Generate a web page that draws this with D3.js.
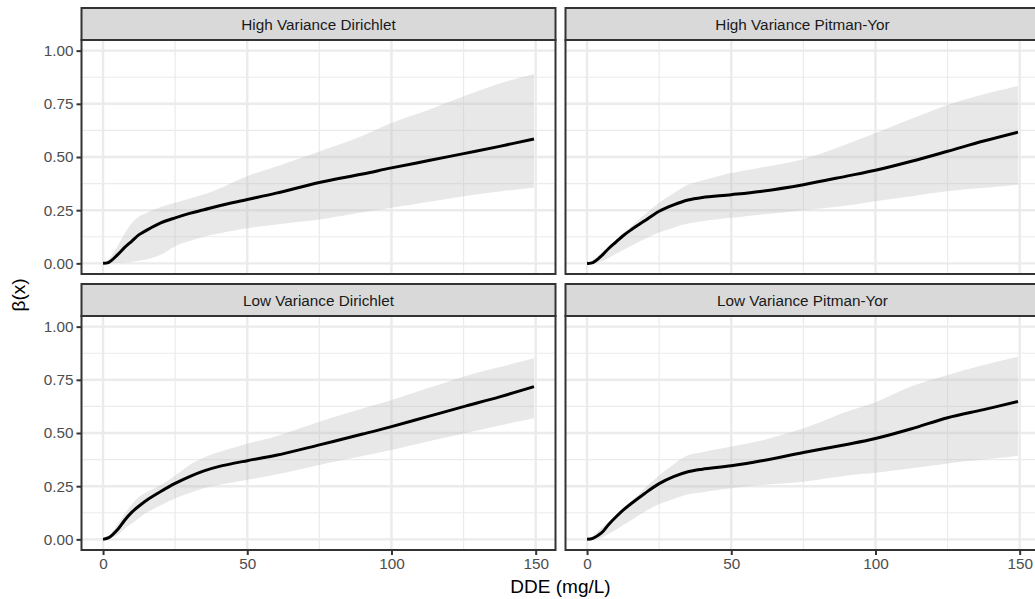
<!DOCTYPE html>
<meta charset="utf-8">
<html>
<script src="https://d3js.org/d3.v7.min.js"></script>
<style>
  body { margin: 0; background: white; }
  text { font-family: "Liberation Sans", Arial, Helvetica, sans-serif; }
</style>
<div id="chart"></div>
<script>

// facet names, in reading order
var facets = ["High Variance Dirichlet", "High Variance Pitman-Yor", "Low Variance Dirichlet", "Low Variance Pitman-Yor"];

// DDE values the curves are read at
var dde = [0, 2, 5, 7.5, 10, 12.5, 15, 20, 25, 30, 35, 40, 50, 60, 75, 90, 100, 112.5, 125, 137.5, 149.4];

// posterior mean of beta(x), one array per facet
var fitHVD = [0, 0.005, 0.04, 0.075, 0.105, 0.135, 0.155, 0.19, 0.214, 0.235, 0.252, 0.27, 0.3, 0.33, 0.38, 0.42, 0.449, 0.482, 0.516, 0.55, 0.585];
var fitHVP = [0, 0.003, 0.035, 0.07, 0.1, 0.13, 0.155, 0.2, 0.245, 0.275, 0.298, 0.31, 0.323, 0.338, 0.37, 0.41, 0.4375, 0.48, 0.527, 0.575, 0.617];
var fitLVD = [0, 0.008, 0.045, 0.09, 0.128, 0.157, 0.183, 0.225, 0.263, 0.295, 0.322, 0.342, 0.37, 0.395, 0.444, 0.495, 0.53, 0.577, 0.624, 0.67, 0.718];
var fitLVP = [0, 0.005, 0.03, 0.07, 0.105, 0.137, 0.165, 0.216, 0.262, 0.295, 0.318, 0.33, 0.346, 0.368, 0.408, 0.446, 0.474, 0.52, 0.572, 0.61, 0.648];

// credible band, upper limits
var hiHVD = [0, 0.02, 0.08, 0.14, 0.19, 0.22, 0.237, 0.265, 0.285, 0.305, 0.325, 0.35, 0.41, 0.455, 0.526, 0.6, 0.66, 0.72, 0.785, 0.845, 0.89];
var hiHVP = [0, 0.015, 0.05, 0.08, 0.11, 0.14, 0.17, 0.23, 0.285, 0.33, 0.37, 0.39, 0.425, 0.45, 0.49, 0.56, 0.6125, 0.68, 0.745, 0.795, 0.834];
var hiLVD = [0, 0.015, 0.07, 0.12, 0.165, 0.2, 0.22, 0.255, 0.3, 0.35, 0.385, 0.41, 0.45, 0.485, 0.553, 0.615, 0.655, 0.71, 0.765, 0.81, 0.851];
var hiLVP = [0, 0.015, 0.055, 0.082, 0.113, 0.143, 0.173, 0.24, 0.3, 0.352, 0.395, 0.41, 0.436, 0.463, 0.522, 0.6, 0.645, 0.72, 0.773, 0.82, 0.859];

// credible band, lower limits
var loHVD = [0, 0, 0.002, 0.004, 0.007, 0.012, 0.018, 0.04, 0.081, 0.105, 0.125, 0.14, 0.165, 0.183, 0.206, 0.24, 0.261, 0.288, 0.316, 0.338, 0.355];
var loHVP = [0, 0.002, 0.009, 0.025, 0.045, 0.063, 0.08, 0.115, 0.145, 0.168, 0.187, 0.198, 0.214, 0.229, 0.25, 0.272, 0.292, 0.316, 0.339, 0.355, 0.37];
var loLVD = [0, 0.002, 0.02, 0.05, 0.075, 0.1, 0.125, 0.16, 0.193, 0.218, 0.24, 0.255, 0.28, 0.305, 0.35, 0.392, 0.42, 0.46, 0.498, 0.535, 0.569];
var loLVP = [0, 0.002, 0.008, 0.025, 0.045, 0.068, 0.088, 0.13, 0.166, 0.19, 0.212, 0.222, 0.24, 0.255, 0.271, 0.3, 0.313, 0.334, 0.357, 0.375, 0.393];

// tick values
var xTicks = [0, 50, 100, 150];
var xMinor = [25, 75, 125];
var yTicks = [0, 0.25, 0.5, 0.75, 1];
var yMinor = [0.125, 0.375, 0.625, 0.875];

var fits = [fitHVD, fitHVP, fitLVD, fitLVP];
var his = [hiHVD, hiHVP, hiLVD, hiLVP];
var los = [loHVD, loHVP, loLVD, loLVP];

var width = 1035,
    height = 599;

var left = 81.5, top0 = 8,
    panelW = 474, panelH = 234,
    stripH = 32, gap = 10;

var svg = d3.select("#chart")
  .append("svg")
    .attr("width", width)
    .attr("height", height);

// ggplot style 5% expansion
var xExt = d3.extent(dde);
var xPad = (xExt[1] - xExt[0]) * 0.05;
var x = d3.scaleLinear()
  .domain([xExt[0] - xPad, xExt[1] + xPad])
  .range([0, panelW]);

var y = d3.scaleLinear()
  .domain([-0.05, 1.05])
  .range([panelH, 0]);

var area = d3.area()
  .x(function(d) { return x(d.x); })
  .y0(function(d) { return y(d.lo); })
  .y1(function(d) { return y(d.hi); })
  .curve(d3.curveCatmullRom.alpha(0.5));

var line = d3.line()
  .x(function(d) { return x(d.x); })
  .y(function(d) { return y(d.fit); })
  .curve(d3.curveCatmullRom.alpha(0.5));

facets.forEach(function(name, i) {
  var col = i % 2, row = Math.floor(i / 2);
  var gx = left + col * (panelW + gap);
  var gy = top0 + row * (stripH + panelH + gap);

  var rows = dde.map(function(v, k) {
    return { x: v, fit: fits[i][k], lo: los[i][k], hi: his[i][k] };
  });

  var g = svg.append("g")
    .attr("transform", "translate(" + gx + "," + (gy + stripH) + ")");

  g.append("rect")
    .attr("width", panelW)
    .attr("height", panelH)
    .attr("fill", "white");

  // minor grid
  g.selectAll(".xminor").data(xMinor).enter().append("line")
    .attr("x1", function(d) { return x(d); }).attr("x2", function(d) { return x(d); })
    .attr("y1", 0).attr("y2", panelH)
    .attr("stroke", "#EBEBEB").attr("stroke-width", 1.2);
  g.selectAll(".yminor").data(yMinor).enter().append("line")
    .attr("y1", function(d) { return y(d); }).attr("y2", function(d) { return y(d); })
    .attr("x1", 0).attr("x2", panelW)
    .attr("stroke", "#EBEBEB").attr("stroke-width", 1.2);

  // major grid
  g.selectAll(".xmajor").data(xTicks).enter().append("line")
    .attr("x1", function(d) { return x(d); }).attr("x2", function(d) { return x(d); })
    .attr("y1", 0).attr("y2", panelH)
    .attr("stroke", "#EBEBEB").attr("stroke-width", 2.4);
  g.selectAll(".ymajor").data(yTicks).enter().append("line")
    .attr("y1", function(d) { return y(d); }).attr("y2", function(d) { return y(d); })
    .attr("x1", 0).attr("x2", panelW)
    .attr("stroke", "#EBEBEB").attr("stroke-width", 2.4);

  g.append("path")
    .datum(rows)
    .attr("d", area)
    .attr("fill", "#BDBDBD")
    .attr("fill-opacity", 0.35);

  g.append("path")
    .datum(rows)
    .attr("d", line)
    .attr("fill", "none")
    .attr("stroke", "black")
    .attr("stroke-width", 3);

  g.append("rect")
    .attr("width", panelW)
    .attr("height", panelH)
    .attr("fill", "none")
    .attr("stroke", "#333333")
    .attr("stroke-width", 2);

  // strip
  var s = svg.append("g")
    .attr("transform", "translate(" + gx + "," + gy + ")");
  s.append("rect")
    .attr("width", panelW)
    .attr("height", stripH)
    .attr("fill", "#D9D9D9")
    .attr("stroke", "#333333")
    .attr("stroke-width", 2);
  s.append("text")
    .attr("x", panelW / 2)
    .attr("y", stripH / 2)
    .attr("dy", "0.36em")
    .attr("text-anchor", "middle")
    .attr("font-size", "15.3px")
    .attr("fill", "#1A1A1A")
    .text(name);

  // axes on the outer panels only
  if (col == 0) {
    var ya = g.append("g")
      .call(d3.axisLeft(y).tickValues(yTicks).tickSize(5).tickPadding(3).tickFormat(d3.format(".2f")));
    ya.select(".domain").remove();
    ya.selectAll("line").attr("stroke", "#333333").attr("stroke-width", 2);
    ya.selectAll("text").attr("fill", "#4D4D4D").attr("font-size", "15.3px")
      .style("font-family", "'Liberation Sans', Arial, sans-serif");
  }
  if (row == 1) {
    var xa = g.append("g")
      .attr("transform", "translate(0," + panelH + ")")
      .call(d3.axisBottom(x).tickValues(xTicks).tickSize(5).tickPadding(3).tickFormat(d3.format("d")));
    xa.select(".domain").remove();
    xa.selectAll("line").attr("stroke", "#333333").attr("stroke-width", 2);
    xa.selectAll("text").attr("fill", "#4D4D4D").attr("font-size", "15.3px")
      .style("font-family", "'Liberation Sans', Arial, sans-serif");
  }
});

// axis titles
var plotRight = left + 2 * panelW + gap;
var plotBottom = top0 + 2 * (stripH + panelH) + gap;

svg.append("text")
  .attr("x", (left + plotRight) / 2)
  .attr("y", 593)
  .attr("text-anchor", "middle")
  .attr("font-size", "19px")
  .attr("fill", "black")
  .text("DDE (mg/L)");

svg.append("text")
  .attr("transform", "translate(25," + ((top0 + stripH + plotBottom) / 2) + ") rotate(-90)")
  .attr("text-anchor", "middle")
  .attr("font-size", "19px")
  .attr("fill", "black")
  .text("β(x)");

</script>
</html>
